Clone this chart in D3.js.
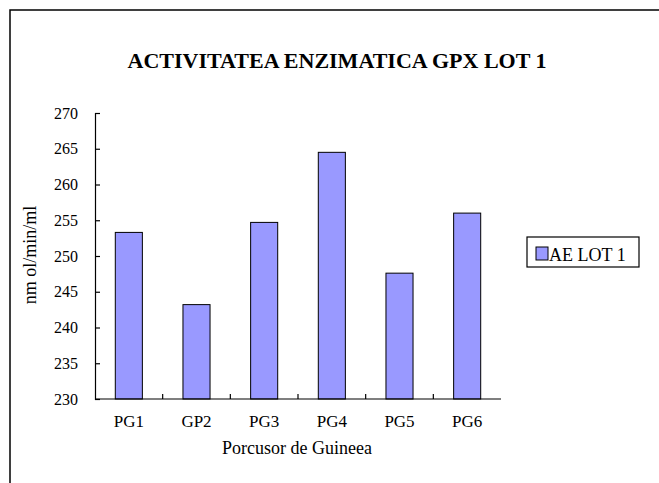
<!DOCTYPE html>
<html>
<head>
<meta charset="utf-8">
<script src="https://cdn.jsdelivr.net/npm/d3@7"></script>
<style>
  html, body { margin: 0; padding: 0; background: #fff; }
  text { font-family: "Liberation Serif", "Times New Roman", serif; fill: #000; }
</style>
</head>
<body>
<div id="chart"></div>
<script>
// GPx enzymatic activity, lot 1
const categories = ['PG1', 'GP2', 'PG3', 'PG4', 'PG5', 'PG6'];
const values = [253.3, 243.2, 254.7, 264.5, 247.6, 256.0];
const yTicks = [230, 235, 240, 245, 250, 255, 260, 265, 270];
const seriesName = 'AE LOT 1';

const width = 659;
const height = 483;
const plot = { left: 95, right: 501, top: 113, bottom: 399 };
const barColor = '#9999ff';

const svg = d3.select('#chart').append('svg')
  .attr('width', width)
  .attr('height', height);

// outer frame (runs off the right and bottom edges)
svg.append('rect')
  .attr('x', 10).attr('y', 10)
  .attr('width', width + 20).attr('height', height + 20)
  .attr('fill', 'none')
  .attr('stroke', '#000')
  .attr('stroke-width', 1.5);

const x = d3.scaleBand()
  .domain(categories)
  .range([plot.left, plot.right])
  .paddingInner(0.6)
  .paddingOuter(0.3);

const xOuter = d3.scaleBand()
  .domain(categories)
  .range([plot.left, plot.right]);

const y = d3.scaleLinear()
  .domain([230, 270])
  .range([plot.bottom, plot.top]);

// bars
svg.selectAll('.bar')
  .data(values)
  .enter()
  .append('rect')
  .attr('class', 'bar')
  .attr('x', (d, i) => x(categories[i]))
  .attr('y', d => y(d))
  .attr('width', x.bandwidth())
  .attr('height', d => plot.bottom - y(d))
  .attr('fill', barColor)
  .attr('stroke', '#000')
  .attr('stroke-width', 1);

// y axis: ticks point inward
const yAxis = svg.append('g')
  .attr('transform', `translate(${plot.left},0)`)
  .call(d3.axisRight(y).tickValues(yTicks).tickSize(5).tickFormat(''));
yAxis.select('.domain').attr('stroke', '#000').attr('stroke-width', 1.2);
yAxis.selectAll('.tick line').attr('stroke', '#000').attr('stroke-width', 1.2);

svg.selectAll('.ylabel')
  .data(yTicks)
  .enter()
  .append('text')
  .attr('class', 'ylabel')
  .attr('x', 78)
  .attr('y', d => y(d))
  .attr('dy', '0.35em')
  .attr('text-anchor', 'end')
  .style('font-size', '16px')
  .text(d => d);

// x axis: separator ticks between categories, pointing up
const xAxis = svg.append('g')
  .attr('transform', `translate(0,${plot.bottom})`);
xAxis.append('line')
  .attr('x1', plot.left).attr('x2', plot.right)
  .attr('y1', 0).attr('y2', 0)
  .attr('stroke', '#000').attr('stroke-width', 1.2);
xAxis.selectAll('.sep')
  .data(categories.slice(1))
  .enter()
  .append('line')
  .attr('x1', d => xOuter(d)).attr('x2', d => xOuter(d))
  .attr('y1', 0).attr('y2', -5)
  .attr('stroke', '#000').attr('stroke-width', 1.2);
xAxis.selectAll('.xlabel')
  .data(categories)
  .enter()
  .append('text')
  .attr('x', d => xOuter(d) + xOuter.bandwidth() / 2)
  .attr('y', 28)
  .attr('text-anchor', 'middle')
  .style('font-size', '17px')
  .text(d => d);

// axis titles
svg.append('text')
  .attr('x', 297)
  .attr('y', 454)
  .attr('text-anchor', 'middle')
  .style('font-size', '18px')
  .text('Porcusor de Guineea');

svg.append('text')
  .attr('transform', `translate(36,255) rotate(-90)`)
  .attr('text-anchor', 'middle')
  .style('font-size', '18px')
  .text('nm ol/min/ml');

// title
svg.append('text')
  .attr('x', 337)
  .attr('y', 68)
  .attr('text-anchor', 'middle')
  .style('font-size', '22px')
  .style('font-weight', '700')
  .text('ACTIVITATEA ENZIMATICA GPX LOT 1');

// legend
const legend = svg.append('g').attr('transform', 'translate(527,237)');
legend.append('rect')
  .attr('width', 112).attr('height', 30)
  .attr('fill', '#fff')
  .attr('stroke', '#000').attr('stroke-width', 1.2);
legend.append('rect')
  .attr('x', 9).attr('y', 10)
  .attr('width', 12).attr('height', 13)
  .attr('fill', barColor)
  .attr('stroke', '#000').attr('stroke-width', 1);
legend.append('text')
  .attr('x', 22)
  .attr('y', 24)
  .style('font-size', '18px')
  .text(seriesName);
</script>
</body>
</html>
